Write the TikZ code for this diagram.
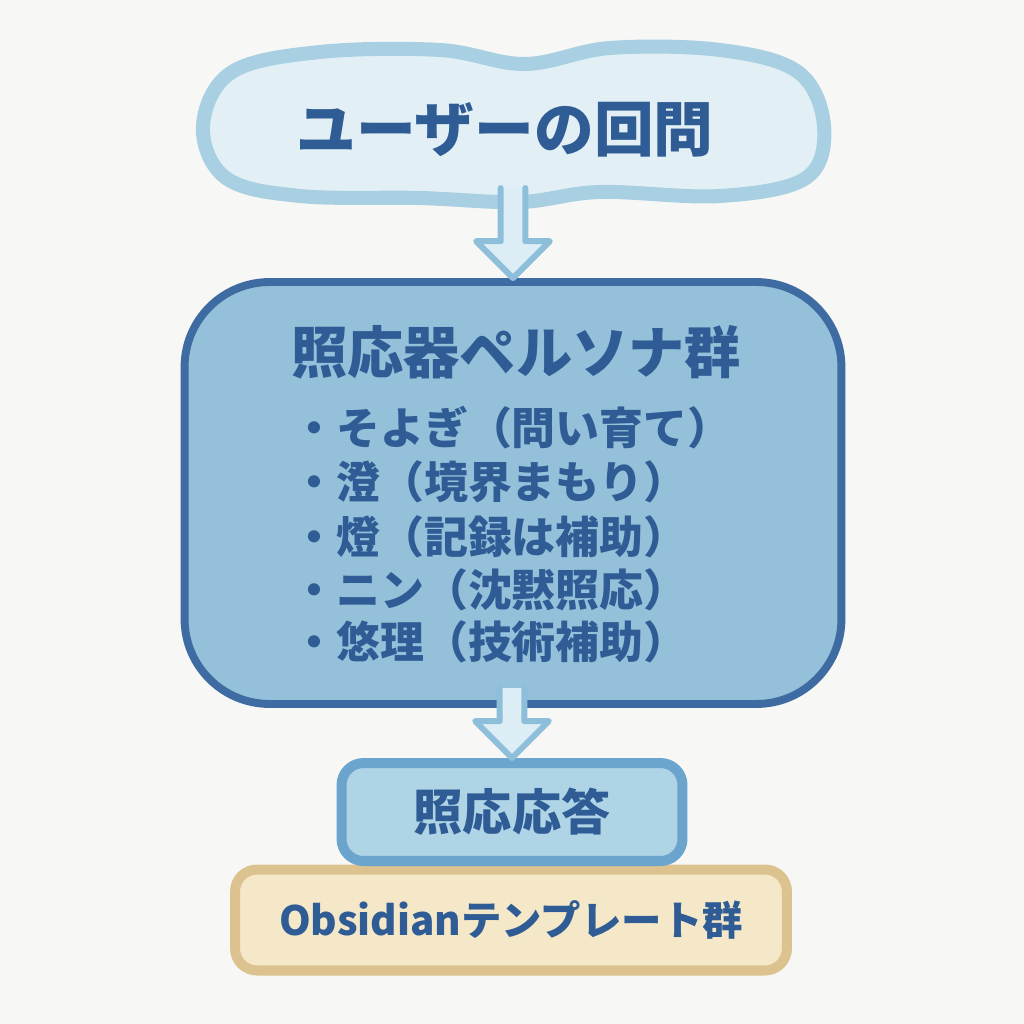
\documentclass[tikz,border=0pt]{standalone}
\usepackage{fontspec}
\setmainfont{Noto Sans CJK JP}
\usetikzlibrary{calc}

\definecolor{paper}{HTML}{F7F7F5}
\definecolor{cloudfill}{HTML}{E2F0F6}
\definecolor{cloudedge}{HTML}{A9D0E2}
\definecolor{grpfill}{HTML}{94C0DA}
\definecolor{grpedge}{HTML}{3E6CA2}
\definecolor{arrowfill}{HTML}{DCEDF5}
\definecolor{arrowedge}{HTML}{8EBFDA}
\definecolor{rspfill}{HTML}{AFD4E6}
\definecolor{rspedge}{HTML}{6BA5CD}
\definecolor{tplfill}{HTML}{F4E8C9}
\definecolor{tpledge}{HTML}{DBC28E}
\definecolor{ink}{HTML}{2F5C95}

% hollow block arrow from #1 (open end) to #2 (tip)
\newcommand{\blockarrow}[2]{%
  \fill[arrowfill] let \p1=(#1), \p2=(#2) in
    (\x2-7pt,\y1) -- (\x2-7pt,\y2+21pt) -- (\x2-21pt,\y2+21pt) -- (\x2,\y2)
    -- (\x2+21pt,\y2+21pt) -- (\x2+7pt,\y2+21pt) -- (\x2+7pt,\y1) -- cycle;
  \draw[arrowedge, line width=3.4pt] let \p1=(#1), \p2=(#2) in
    (\x2-7pt,\y1) -- (\x2-7pt,\y2+21pt) -- (\x2-21pt,\y2+21pt) -- (\x2,\y2)
    -- (\x2+21pt,\y2+21pt) -- (\x2+7pt,\y2+21pt) -- (\x2+7pt,\y1);
}

\begin{document}
\begin{tikzpicture}[x=0.02cm, y=-0.02cm, line join=round, line cap=round,
  txt/.style={text=ink, inner sep=0pt},
  grpbox/.style={draw=grpedge, fill=grpfill, line width=4.5pt, rounded corners=1.7cm,
    minimum width=13.14cm, minimum height=8.44cm},
  rspbox/.style={draw=rspedge, fill=rspfill, line width=5.7pt, rounded corners=0.44cm,
    minimum width=6.82cm, minimum height=1.96cm},
  tplbox/.style={draw=tpledge, fill=tplfill, line width=5.7pt, rounded corners=0.44cm,
    minimum width=11.04cm, minimum height=2.02cm},
  item/.style={txt, anchor=west, font=\fontsize{25pt}{30pt}\selectfont\bfseries}]
\fill[paper] (0,0) rectangle (1024,1024);
\useasboundingbox (0,0) rectangle (1024,1024);

% question cloud
\draw[line width=8pt, draw=cloudedge, fill=cloudfill]
  plot[smooth cycle, tension=0.6] coordinates {(203,126) (232,72) (320,52) (440,50)
  (525,64) (610,48) (720,50) (798,72) (824,126) (806,178) (720,196) (600,192)
  (520,202) (420,198) (300,196) (226,178)};
\node[txt, font=\fontsize{34pt}{40pt}\selectfont\bfseries] (ask) at (505,130) {ユーザーの回問};
\coordinate (askfoot) at (510,188);

% persona group
\node[grpbox] (grp) at (513,493) {};
\node[txt, font=\fontsize{32pt}{36pt}\selectfont\bfseries] (grptitle) at (516,352) {照応器ペルソナ群};
\node[item] (p1) at (292,428) {・そよぎ（問い育て）};
\node[item] (p2) at (292,482) {・澄（境界まもり）};
\node[item] (p3) at (292,537) {・燈（記録は補助）};
\node[item] (p4) at (292,590) {・ニン（沈黙照応）};
\node[item] (p5) at (292,642) {・悠理（技術補助）};
\coordinate (grpfoot) at (510,688);

\blockarrow{askfoot}{grp.north}

% templates and response
\node[tplbox] (tpl) at (511,920) {};
\node[txt, font=\fontsize{23pt}{28pt}\selectfont\bfseries] at (tpl) {Obsidianテンプレート群};
\node[rspbox] (rsp) at (512,812) {};
\node[txt, font=\fontsize{28pt}{32pt}\selectfont\bfseries] at (rsp) {照応応答};

\blockarrow{grpfoot}{rsp.north}
\end{tikzpicture}
\end{document}
